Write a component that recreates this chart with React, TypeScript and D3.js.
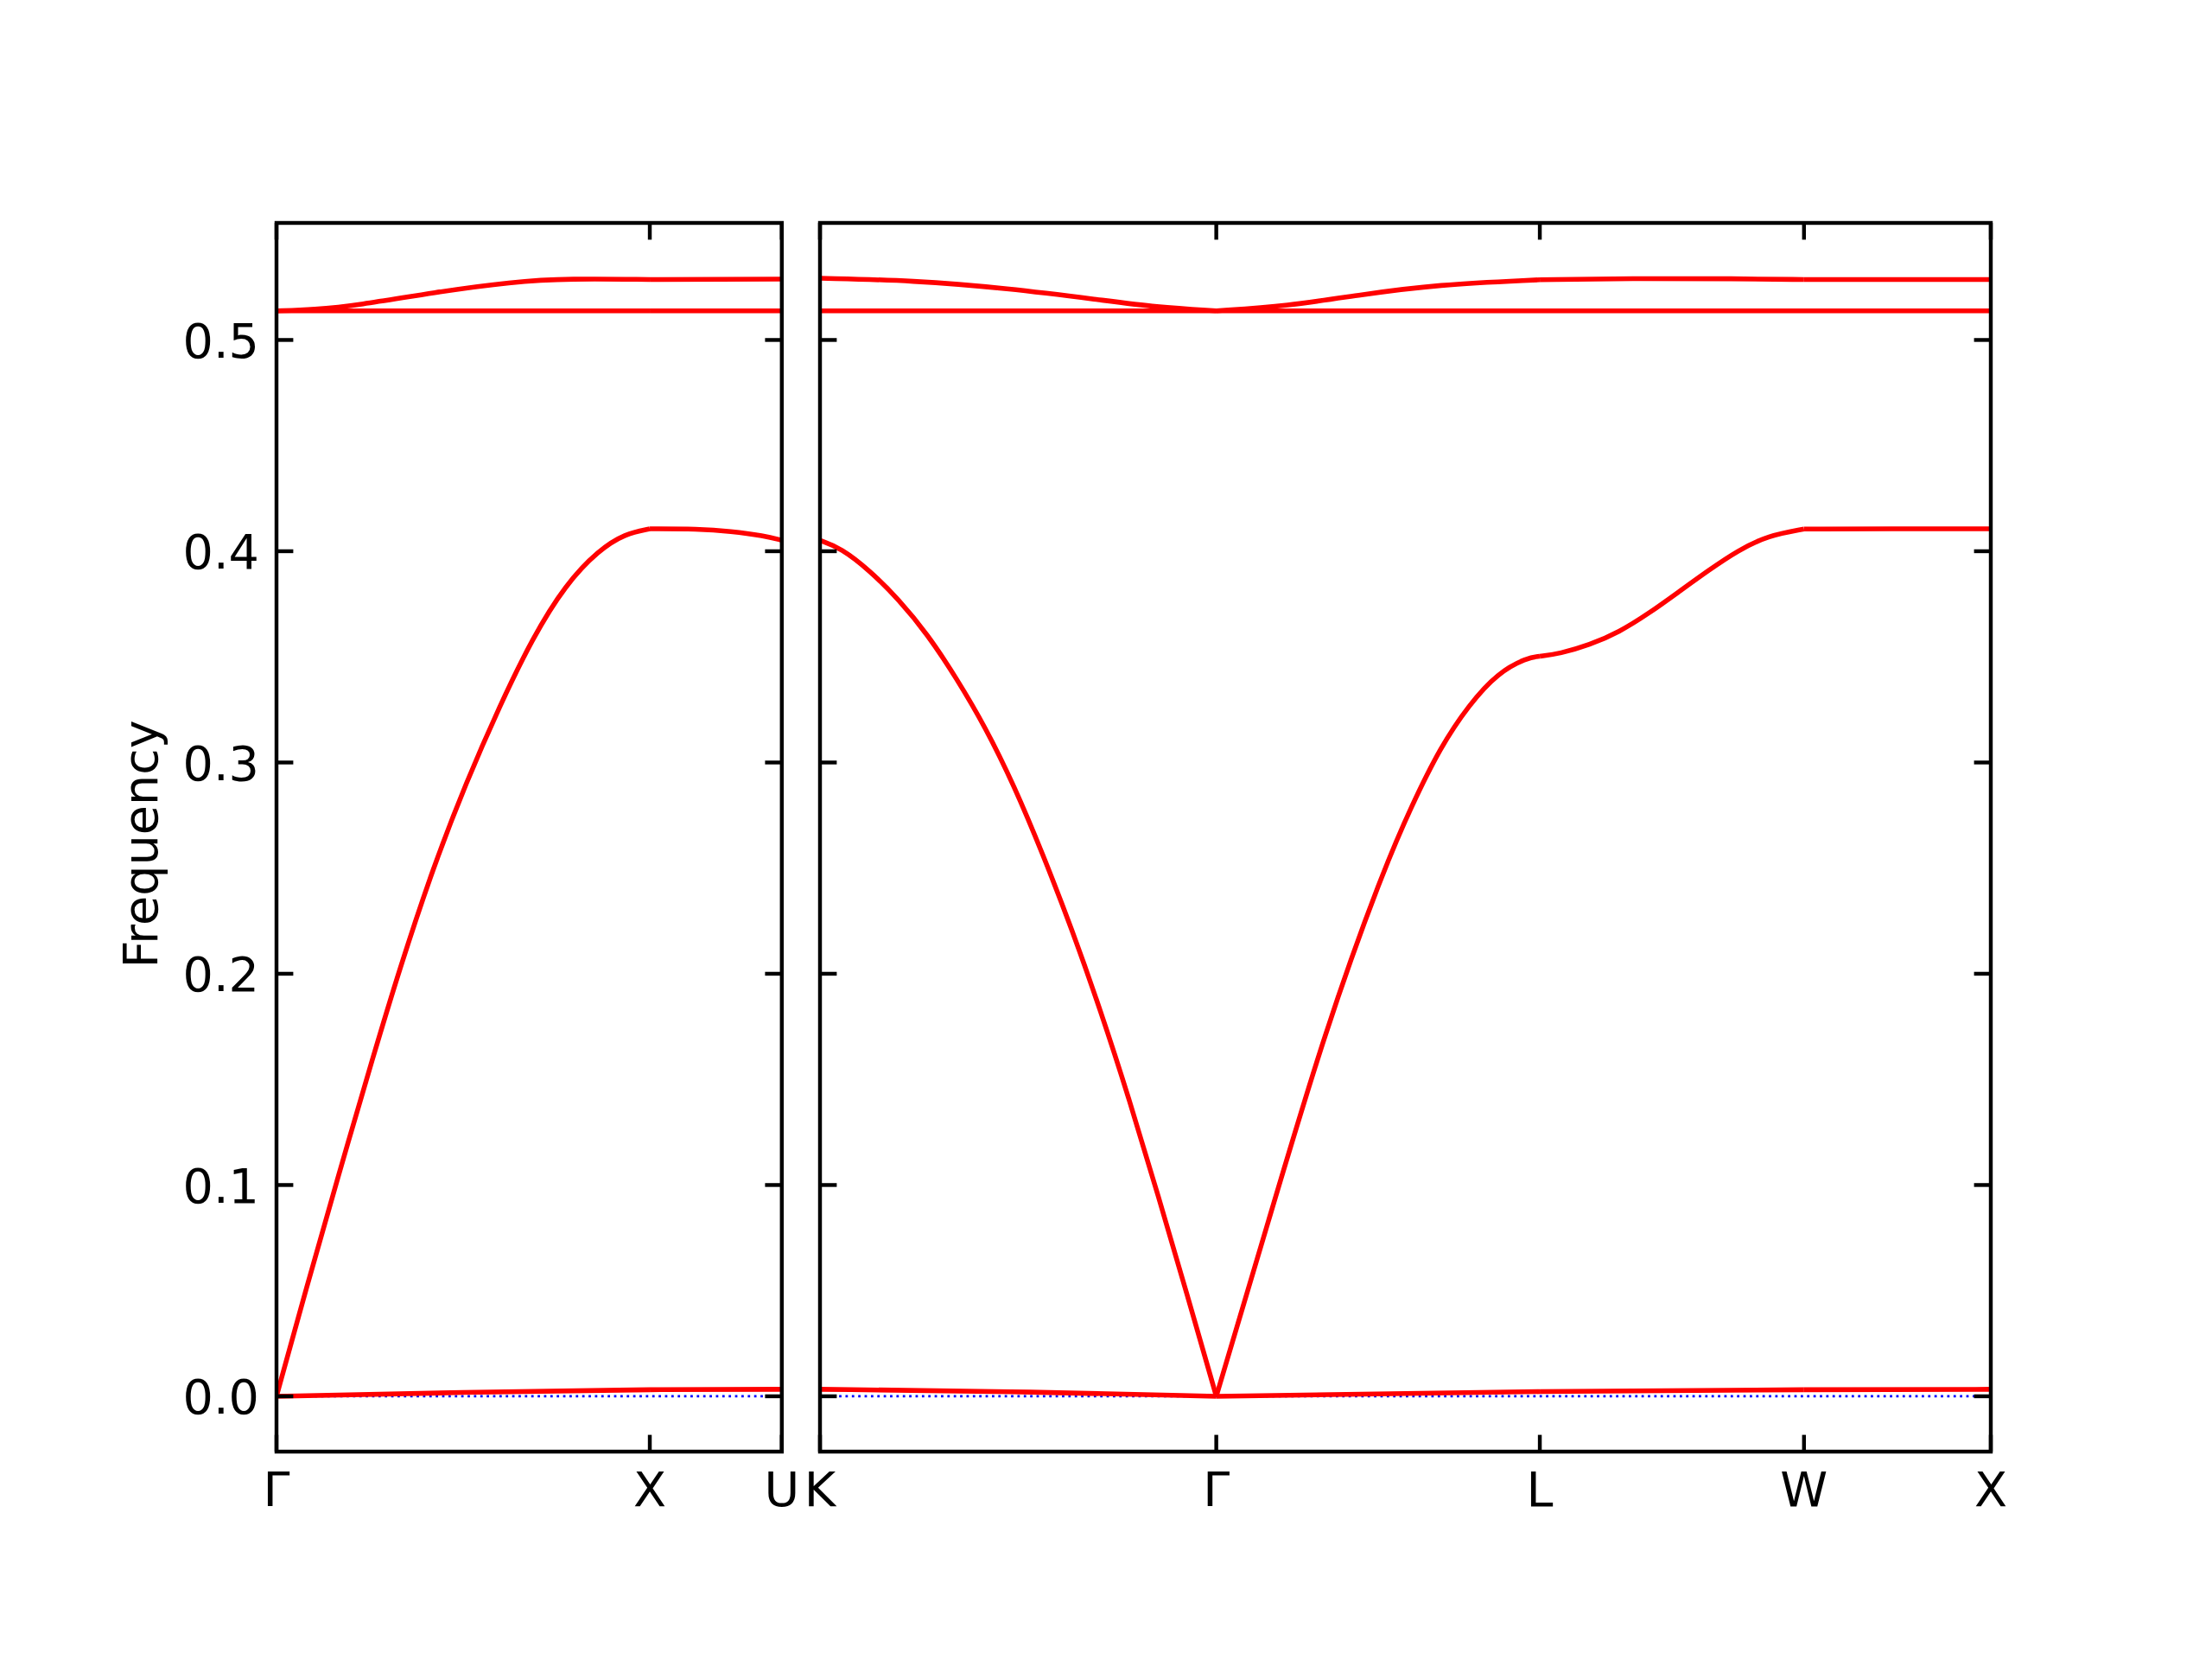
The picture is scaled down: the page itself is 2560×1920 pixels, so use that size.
import React from "react";
import * as d3 from "d3";

// ---------- data ----------
const leftTickPos = [0, 1.0, 1.3536];
const leftTickLabels = ["Γ", "X", "U"];
const rightTickPos = [0, 1.0607, 1.9267, 2.6338, 3.1338];
const rightTickLabels = ["K", "Γ", "L", "W", "X"];
const yTicks = [0.0, 0.1, 0.2, 0.3, 0.4, 0.5];
const yTickLabels = ["0.0", "0.1", "0.2", "0.3", "0.4", "0.5"];

// left panel bands (k, frequency)
const leftBand1: [number, number][] = [[0, 0], [0.5, 0.0019], [1.0, 0.0031], [1.3536, 0.0033]];
const leftBand2: [number, number][] = [
  [0, 0], [0.08, 0.0513], [0.163, 0.1028], [0.26, 0.1615], [0.331, 0.203], [0.42, 0.2505],
  [0.508, 0.2905], [0.597, 0.3265], [0.686, 0.359], [0.774, 0.3842], [0.863, 0.4005],
  [0.934, 0.4083], [1.0, 0.4106], [1.128, 0.4106], [1.217, 0.4095],
  [1.306, 0.4073], [1.3536, 0.4052],
];
const leftBand3: [number, number][] = [[0, 0.5138], [1.0, 0.5138], [1.3536, 0.5138]];
const leftBand4: [number, number][] = [
  [0, 0.5138], [0.1, 0.5144], [0.217, 0.5164], [0.424, 0.5226], [0.631, 0.5276],
  [0.786, 0.5291], [1.0, 0.5286], [1.3536, 0.5288],
];

// right panel bands
const rightBand1: [number, number][] = [
  [0, 0.0033], [0.5, 0.0024], [1.0607, 0], [1.9267, 0.0022], [2.6338, 0.0031], [3.1338, 0.0033],
];
const rightBand2: [number, number][] = [
  [0, 0.4051], [0.056, 0.4015], [0.1335, 0.3908], [0.2106, 0.3772], [0.2878, 0.3607],
  [0.365, 0.34], [0.4421, 0.3169], [0.519, 0.2893], [0.5965, 0.2566], [0.6736, 0.2214],
  [0.7508, 0.1827], [0.828, 0.1405], [0.9051, 0.095], [0.983, 0.048], [1.0607, 0],
  [1.1977, 0.0814], [1.3517, 0.1731], [1.5063, 0.2484], [1.5835, 0.2795], [1.6607, 0.3073],
  [1.7378, 0.3275], [1.8147, 0.3425], [1.8917, 0.3495], [1.9267, 0.3503],
  [1.9797, 0.3515], [2.0596, 0.3556], [2.1392, 0.3617], [2.2188, 0.3706], [2.2987, 0.3808],
  [2.3783, 0.391], [2.4579, 0.4005], [2.5378, 0.4074], [2.6338, 0.4105],
  [2.9, 0.4106], [3.1338, 0.4106],
];
const rightBand3: [number, number][] = [[0, 0.5138], [3.1338, 0.5138]];
const rightBand4: [number, number][] = [
  [0, 0.5292], [0.25, 0.5282], [0.5, 0.5245], [0.75, 0.519], [0.9, 0.5155], [1.0607, 0.5138],
  [1.25, 0.516], [1.45, 0.5215], [1.65, 0.5262], [1.9267, 0.5285], [2.2, 0.5292],
  [2.45, 0.529], [2.6338, 0.5286], [3.1338, 0.5286],
];

const leftBands = [leftBand1, leftBand2, leftBand3, leftBand4];
const rightBands = [rightBand1, rightBand2, rightBand3, rightBand4];

// ---------- layout ----------
const W = 2560;
const H = 1920;
const top = 258;
const bottom = 1680;
const FONT = "DejaVu Sans, sans-serif";
const FS = 55.6;
const SPINE = 4.44;
const TICK = 19.4;
const LW = 5.56;

const y = d3.scaleLinear().domain([-0.0262, 0.5554]).range([bottom, top]);

function splitSegments(pts: [number, number][], breaks: number[]) {
  const segs: [number, number][][] = [];
  let cur: [number, number][] = [];
  pts.forEach((p, i) => {
    cur.push(p);
    const isBreak = breaks.some((b) => Math.abs(b - p[0]) < 1e-6);
    if (isBreak && i > 0 && i < pts.length - 1) {
      segs.push(cur);
      cur = [p];
    }
  });
  if (cur.length > 1) segs.push(cur);
  return segs;
}

function Panel(props: {
  id: string;
  x0: number;
  x1: number;
  domainMax: number;
  ticks: number[];
  labels: string[];
  bands: [number, number][][];
  showYLabels: boolean;
}) {
  const { id, x0, x1, domainMax, ticks, labels, bands, showYLabels } = props;
  const x = d3.scaleLinear().domain([0, domainMax]).range([x0, x1]);
  const line = d3
    .line<[number, number]>()
    .x((d) => x(d[0]))
    .y((d) => y(d[1]))
    .curve(d3.curveBasis);
  const clipId = `clip-${id}`;
  return (
    <g>
      <defs>
        <clipPath id={clipId}>
          <rect x={x0} y={top} width={x1 - x0} height={bottom - top} />
        </clipPath>
      </defs>
      <g clipPath={`url(#${clipId})`}>
        <line
          x1={x0}
          x2={x1}
          y1={y(0)}
          y2={y(0)}
          stroke="blue"
          strokeWidth={2.78}
          strokeDasharray="2.78 4.59"
        />
        {bands.map((b, bi) =>
          splitSegments(b, ticks).map((seg, si) => (
            <path
              key={`${bi}-${si}`}
              d={line(seg) || ""}
              fill="none"
              stroke="red"
              strokeWidth={LW}
              strokeLinejoin="round"
            />
          ))
        )}
      </g>
      {yTicks.map((t, i) => (
        <g key={`yt${i}`}>
          <line x1={x0} x2={x0 + TICK} y1={y(t)} y2={y(t)} stroke="black" strokeWidth={SPINE} />
          <line x1={x1} x2={x1 - TICK} y1={y(t)} y2={y(t)} stroke="black" strokeWidth={SPINE} />
          {showYLabels && (
            <text
              x={x0 - 20}
              y={y(t) + 20.5}
              textAnchor="end"
              fontFamily={FONT}
              fontSize={FS}
              fill="black"
            >
              {yTickLabels[i]}
            </text>
          )}
        </g>
      ))}
      {ticks.map((t, i) => (
        <g key={`xt${i}`}>
          <line x1={x(t)} x2={x(t)} y1={bottom} y2={bottom - TICK} stroke="black" strokeWidth={SPINE} />
          <line x1={x(t)} x2={x(t)} y1={top} y2={top + TICK} stroke="black" strokeWidth={SPINE} />
          <text
            x={x(t)}
            y={1743}
            textAnchor="middle"
            fontFamily={FONT}
            fontSize={FS}
            fill="black"
          >
            {labels[i]}
          </text>
        </g>
      ))}
      <rect
        x={x0}
        y={top}
        width={x1 - x0}
        height={bottom - top}
        fill="none"
        stroke="black"
        strokeWidth={SPINE}
        strokeLinejoin="miter"
      />
    </g>
  );
}

export default function App() {
  return (
    <svg
      width={W}
      height={H}
      viewBox={`0 0 ${W} ${H}`}
      style={{ position: "absolute", left: 0, top: 0, background: "white" }}
    >
      <rect x={0} y={0} width={W} height={H} fill="white" />
      <Panel
        id="left"
        x0={320}
        x1={904.8}
        domainMax={1.3536}
        ticks={leftTickPos}
        labels={leftTickLabels}
        bands={leftBands}
        showYLabels={true}
      />
      <Panel
        id="right"
        x0={949}
        x1={2304}
        domainMax={3.1338}
        ticks={rightTickPos}
        labels={rightTickLabels}
        bands={rightBands}
        showYLabels={false}
      />
      <text
        transform={`translate(182, 977) rotate(-90)`}
        textAnchor="middle"
        fontFamily={FONT}
        fontSize={FS}
        fill="black"
      >
        Frequency
      </text>
    </svg>
  );
}
